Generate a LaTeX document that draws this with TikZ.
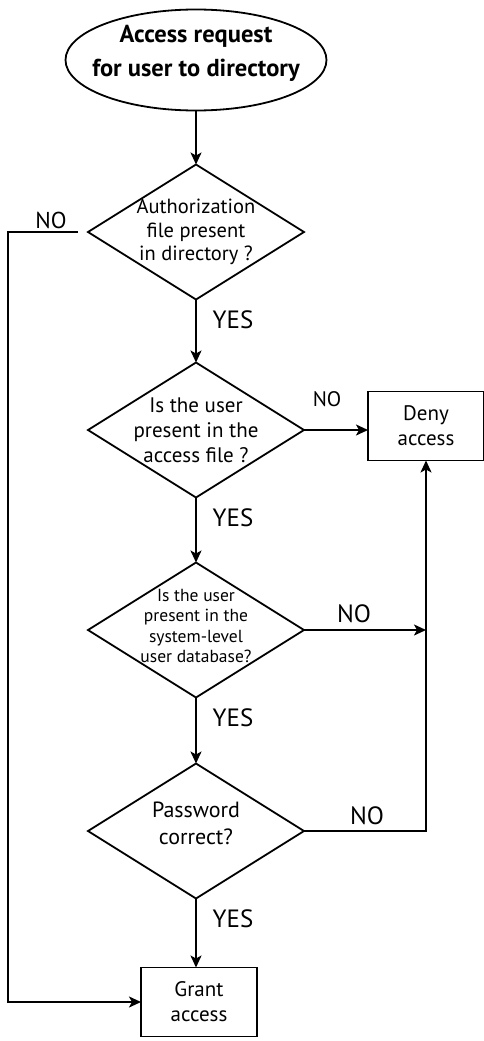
\documentclass[tikz,border=0pt]{standalone}
\usepackage{fontspec}
\setmainfont{PT Sans}
\usepackage{tikz}
\usetikzlibrary{arrows.meta,positioning,shapes.geometric,calc}
\tikzset{
  startnode/.style={
    ellipse, draw, line width=1.8pt,
    minimum width=261pt, minimum height=101pt,
    inner sep=0pt, outer sep=0pt
  },
  decision/.style={
    diamond, draw, line width=1.8pt,
    minimum width=216pt, minimum height=135pt,
    inner sep=0pt, outer sep=0pt
  },
  outbox/.style={
    rectangle, draw, line width=1.8pt,
    minimum width=116pt, minimum height=69pt,
    font=\fontsize{21}{25}\selectfont, align=center,
    inner sep=3pt, outer sep=0pt
  },
  qtext/.style 2 args={
    align=center, inner sep=0pt,
    font=\fontsize{#1}{#2}\selectfont
  },
  flow/.style={
    -{Stealth[length=12pt, width=11pt, inset=3pt]}, line width=1.8pt
  },
  answer/.style={
    font=\fontsize{#1}{#1}\selectfont, inner sep=0pt
  },
  answer/.default=25,
}

\begin{document}
\begin{tikzpicture}[x=1pt, y=1pt]
  \useasboundingbox (0,0) rectangle (483,-1041);

  \node[startnode, label={[qtext={24}{34}, font=\fontsize{24.5}{34}\selectfont\bfseries,
      yshift=7pt]center:{Access request\\for user to directory}}] (req) at (196,-60) {};
  \node[decision, below=54pt of req,
    label={[qtext={20.5}{23.5}]center:{Authorization\\file present\\in directory ?}}] (auth) {};
  \node[decision, below=63pt of auth,
    label={[qtext={21}{25}]center:{Is the user\\present in the\\access file ?}}] (infile) {};
  \node[decision, below=65pt of infile,
    label={[qtext={17.5}{20.3}, yshift=4pt]center:{Is the user\\present in the\\system-level\\user database?}}] (indb) {};
  \node[decision, below=66pt of indb,
    label={[qtext={22}{27}, yshift=8pt]center:{Password\\correct?}}] (pwd) {};
  \node[outbox, below=69pt of pwd, xshift=3pt] (grant) {Grant\\access};
  \node[outbox, right=64pt of infile, yshift=4pt] (deny) {Deny\\access};
  \coordinate[left=10pt of auth.west] (nostart);

  \draw[flow] (req) -- (auth);
  \draw[flow] (auth) -- (infile);
  \draw[flow] (infile) -- (indb);
  \draw[flow] (indb) -- (pwd);
  \draw[flow] (pwd) -- (pwd.south |- grant.north);

  \draw[flow] (infile.east) -- (infile.east -| deny.west);
  \draw[flow] (indb.east) -- (indb.east -| deny.south);
  \draw[flow] (pwd.east) -| (deny.south);
  \draw[flow] (nostart) -- ++(-70,0) |- (grant.west);

  % Answers
  \foreach \q in {auth, infile, indb, pwd}
    \node[answer] at ($(\q.south)+(37,-20)$) {YES};
  \node[answer=23] at ($(nostart)+(-27,12)$) {NO};
  \node[answer=21] at ($(infile.east)+(23,31)$) {NO};
  \node[answer] at ($(indb.east)+(50,16)$) {NO};
  \node[answer] at ($(pwd.east)+(63,15)$) {NO};
\end{tikzpicture}
\end{document}
